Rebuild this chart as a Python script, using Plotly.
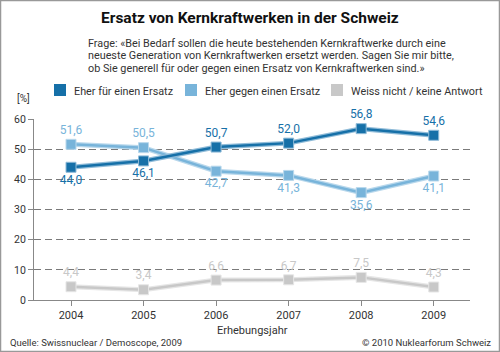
import plotly.graph_objects as go

years = [2004, 2005, 2006, 2007, 2008, 2009]
fuer = [44.0, 46.1, 50.7, 52.0, 56.8, 54.6]
gegen = [51.6, 50.5, 42.7, 41.3, 35.6, 41.1]
weiss = [4.4, 3.4, 6.6, 6.7, 7.5, 4.3]
series_names = ["Eher für einen Ersatz", "Eher gegen einen Ersatz", "Weiss nicht / keine Antwort"]
y_ticks = [0, 10, 20, 30, 40, 50, 60]

pos_fuer = ["bottom center", "bottom center", "top center", "top center", "top center", "top center"]
pos_gegen = ["top center", "top center", "bottom center", "bottom center", "bottom center", "bottom center"]
pos_weiss = ["top center"] * 6

C_DARK = "#1670a8"
C_LIGHT = "#78b4da"
C_GREY = "#c8c8c8"
FONT = "Roboto"

W, H = 500, 352
L, R, T, B = 34, 30, 119, 52
PW, PH = W - L - R, H - T - B


def px(x):
    return (x - L) / PW


def py(y):
    return (H - B - y) / PH


def fmt(v):
    return f"{v:.1f}".replace(".", ",")


fig = go.Figure()

for vals, col, halo, pos, name in [
    (weiss, C_GREY, "#e6e6e6", pos_weiss, series_names[2]),
    (gegen, C_LIGHT, "#b9d8ec", pos_gegen, series_names[1]),
    (fuer, C_DARK, "#8fbbd8", pos_fuer, series_names[0]),
]:
    fig.add_trace(go.Scatter(x=years, y=vals, mode="lines", line=dict(color=halo, width=5),
                             showlegend=False, hoverinfo="skip"))
    fig.add_trace(go.Scatter(
        x=years, y=vals, mode="lines+markers+text", name=name,
        line=dict(color=col, width=2.5),
        marker=dict(symbol="square", size=10, color=col, line=dict(color=halo, width=1)),
        text=[fmt(v) for v in vals], textposition=pos,
        textfont=dict(family=FONT, size=12, color=col),
        showlegend=False, cliponaxis=False))

fig.update_xaxes(range=[2003.49, 2009.5], tickvals=years, ticktext=[str(y) for y in years],
                 showgrid=False, showline=True, linecolor="#888", linewidth=1.2,
                 ticks="outside", ticklen=5, tickcolor="#888", zeroline=False,
                 tickfont=dict(family=FONT, size=11, color="#333"))
fig.update_yaxes(range=[0, 60], tickvals=y_ticks, showgrid=True, gridcolor="#7a7a7a",
                 gridwidth=1.3, griddash="7px,4px", showline=True, linecolor="#888", linewidth=1.2,
                 ticks="outside", ticklen=5, tickcolor="#888", zeroline=False,
                 tickfont=dict(family=FONT, size=10.5, color="#333"))

shapes = [dict(type="rect", xref="paper", yref="paper", x0=px(0.5), x1=px(499.5),
               y0=py(351.5), y1=py(0.5), line=dict(color="#999", width=1.5), layer="above")]
annotations = []


def text(x, y, s, size, color="#222", bold=False, xanchor="left"):
    annotations.append(dict(xref="paper", yref="paper", x=px(x), y=py(y), text=("<b>%s</b>" % s) if bold else s,
                            showarrow=False, xanchor=xanchor, yanchor="middle",
                            font=dict(family=FONT, size=size, color=color)))


text(250, 18, "Ersatz von Kernkraftwerken in der Schweiz", 15.5, "#111", True, "center")
q_lines = ["Frage: «Bei Bedarf sollen die heute bestehenden Kernkraftwerke durch eine",
           "neueste Generation von Kernkraftwerken ersetzt werden. Sagen Sie mir bitte,",
           "ob Sie generell für oder gegen einen Ersatz von Kernkraftwerken sind.»"]
for i, s in enumerate(q_lines):
    text(86, 43 + i * 12.5, s, 10.8, "#333")

leg_x = [54, 185, 331]
for lx, col, name in zip(leg_x, [C_DARK, C_LIGHT, C_GREY], series_names):
    shapes.append(dict(type="rect", xref="paper", yref="paper", x0=px(lx), x1=px(lx + 12),
                       y0=py(96), y1=py(84), fillcolor=col, line=dict(width=0)))
    text(lx + 18, 91, name, 10.8, "#333")

text(15, 98, "[%]", 10, "#333")
text(252, 330, "Erhebungsjahr", 11, "#333", xanchor="center")
text(8, 342, "Quelle: Swissnuclear / Demoscope, 2009", 9.5, "#333")
text(493, 342, "© 2010 Nuklearforum Schweiz", 9.5, "#333", xanchor="right")

fig.update_layout(width=W, height=H, margin=dict(l=L, r=R, t=T, b=B),
                  paper_bgcolor="white", plot_bgcolor="white",
                  shapes=shapes, annotations=annotations, showlegend=False)

fig.write_html("out.html")
